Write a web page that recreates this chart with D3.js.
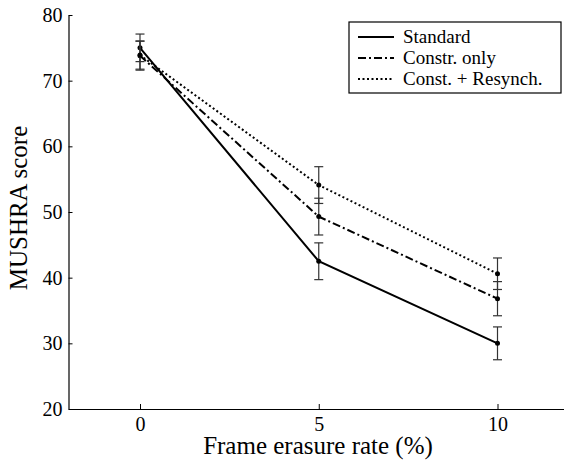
<!DOCTYPE html>
<html>
<head>
<meta charset="utf-8">
<script src="https://cdn.jsdelivr.net/npm/d3@7"></script>
<style>
  body { margin: 0; background: #fff; }
  svg text { font-family: "Liberation Serif", "DejaVu Serif", serif; }
</style>
</head>
<body>
<div id="chart"></div>
<script>
// values
const rates = [0, 5, 10];
const seriesNames = ["Standard", "Constr. only", "Const. + Resynch."];
const standard = [75.0, 42.5, 30.0];
const standardErr = [2.1, 2.8, 2.5];
const constrOnly = [73.8, 49.3, 36.8];
const constrOnlyErr = [2.2, 2.8, 2.6];
const resynch = [73.9, 54.1, 40.6];
const resynchErr = [2.15, 2.8, 2.4];
const xTicks = [0, 5, 10];
const yTicks = [20, 30, 40, 50, 60, 70, 80];

let width = 564,
    height = 460,
    margin = ({ top: 15, right: -5, bottom: 51, left: 68.5 });

const serif = "Liberation Serif";
const dashes = ["none", "8,3,2,3", "2,2.5"];

const svg = d3.select("#chart")
  .append("svg")
  .attr("width", width)
  .attr("height", height)
  .attr("font-family", serif);

let x = d3.scaleLinear()
  .domain([-2, 12])
  .range([margin.left, width - margin.right]);

let y = d3.scaleLinear()
  .domain([20, 80])
  .range([height - margin.bottom, margin.top]);

let series = [standard, constrOnly, resynch].map((vals, i) => ({
  name: seriesNames[i],
  dash: dashes[i],
  points: rates.map((r, j) => ({
    rate: r,
    value: vals[j],
    err: [standardErr, constrOnlyErr, resynchErr][i][j]
  }))
}));

// axes, ticks pointing inward
let xAxis = svg.append("g")
  .attr("transform", `translate(0,${y(20)})`)
  .call(d3.axisBottom(x).tickValues(xTicks).tickSize(-5).tickPadding(8).tickSizeOuter(0));

let yAxis = svg.append("g")
  .attr("transform", `translate(${x(-2)},0)`)
  .call(d3.axisLeft(y).tickValues(yTicks).tickSize(-4).tickPadding(6).tickSizeOuter(0));

for (let g of [xAxis, yAxis]) {
  g.attr("font-family", serif).attr("font-size", 20);
  g.select(".domain").attr("stroke", "#000").attr("stroke-width", 1.2);
  g.selectAll(".tick line").attr("stroke", "#000");
  g.selectAll(".tick text").attr("fill", "#000");
}

svg.append("text")
  .text("Frame erasure rate (%)")
  .attr("x", 318)
  .attr("y", 454)
  .attr("text-anchor", "middle")
  .attr("font-size", 25);

svg.append("text")
  .text("MUSHRA score")
  .attr("transform", "translate(27,208) rotate(-90)")
  .attr("text-anchor", "middle")
  .attr("font-size", 25);

let line = d3.line()
  .x(d => x(d.rate))
  .y(d => y(d.value));

for (let s of series) {
  let g = svg.append("g").attr("class", "series");

  // error bars
  let eb = g.selectAll(".err")
    .data(s.points)
    .join("g")
    .attr("stroke", "#333")
    .attr("stroke-width", 1.2);

  eb.append("line")
    .attr("x1", d => x(d.rate)).attr("x2", d => x(d.rate))
    .attr("y1", d => y(d.value - d.err)).attr("y2", d => y(d.value + d.err));
  eb.append("line")
    .attr("x1", d => x(d.rate) - 4.5).attr("x2", d => x(d.rate) + 4.5)
    .attr("y1", d => y(d.value + d.err)).attr("y2", d => y(d.value + d.err));
  eb.append("line")
    .attr("x1", d => x(d.rate) - 4.5).attr("x2", d => x(d.rate) + 4.5)
    .attr("y1", d => y(d.value - d.err)).attr("y2", d => y(d.value - d.err));

  g.append("path")
    .datum(s.points)
    .attr("fill", "none")
    .attr("stroke", "#000")
    .attr("stroke-width", 2)
    .attr("stroke-dasharray", s.dash)
    .attr("d", line);

  g.selectAll("circle")
    .data(s.points)
    .join("circle")
    .attr("cx", d => x(d.rate))
    .attr("cy", d => y(d.value))
    .attr("r", 2.5)
    .attr("fill", "#000");
}

// legend
let legend = svg.append("g").attr("transform", "translate(349,22)");

legend.append("rect")
  .attr("width", 212)
  .attr("height", 71)
  .attr("fill", "#fff")
  .attr("stroke", "#000")
  .attr("stroke-width", 1.2);

series.forEach((s, i) => {
  let row = legend.append("g").attr("transform", `translate(0,${15 + i * 21})`);
  row.append("line")
    .attr("x1", 9).attr("x2", 45)
    .attr("stroke", "#000")
    .attr("stroke-width", 2)
    .attr("stroke-dasharray", s.dash);
  row.append("text")
    .text(s.name)
    .attr("x", 54)
    .attr("y", 6)
    .attr("font-size", 19);
});
</script>
</body>
</html>
